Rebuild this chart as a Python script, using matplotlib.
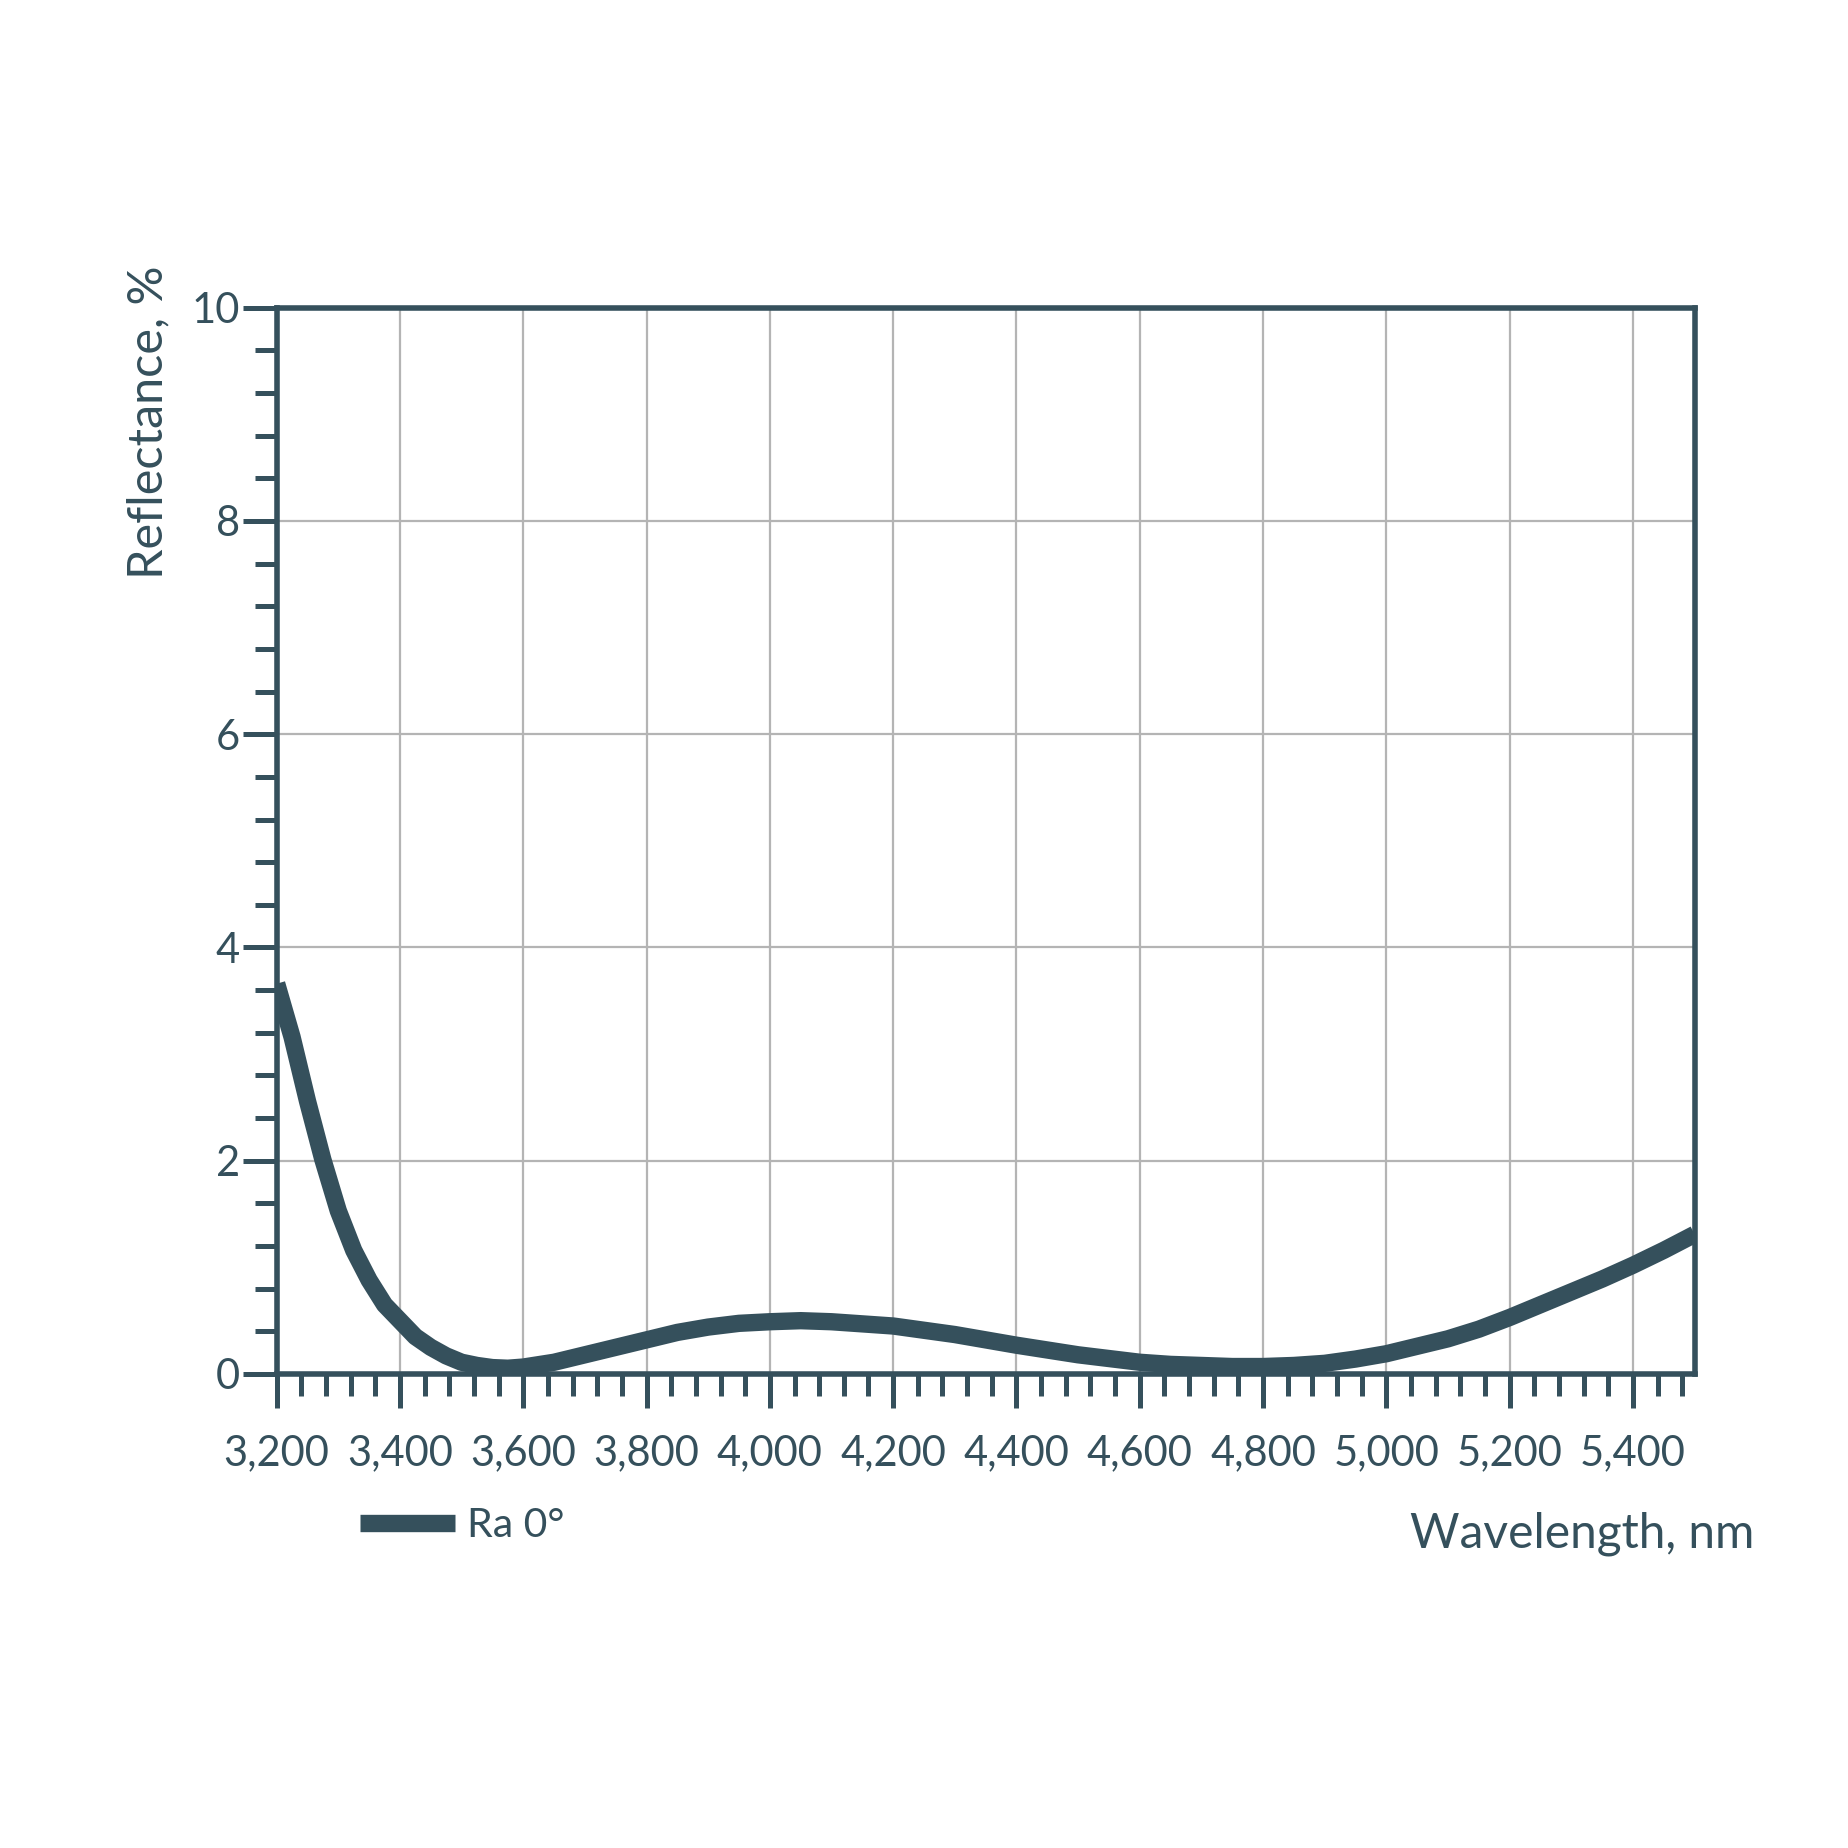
import matplotlib
matplotlib.use("Agg")
import matplotlib.pyplot as plt
from matplotlib.ticker import MultipleLocator, StrMethodFormatter

# 数据：波长 (nm) 与反射率 (%)
wavelength = [3200, 3225, 3250, 3275, 3300, 3325, 3350, 3375, 3400, 3425,
              3450, 3475, 3500, 3525, 3550, 3575, 3600, 3650, 3700, 3750,
              3800, 3850, 3900, 3950, 4000, 4050, 4100, 4150, 4200, 4250,
              4300, 4350, 4400, 4450, 4500, 4550, 4600, 4650, 4700, 4750,
              4800, 4850, 4900, 4950, 5000, 5050, 5100, 5150, 5200, 5250,
              5300, 5350, 5400, 5450, 5500]
reflectance = [3.66, 3.16, 2.56, 2.01, 1.53, 1.16, 0.88, 0.65, 0.50, 0.35,
               0.25, 0.17, 0.11, 0.08, 0.06, 0.054, 0.065, 0.11, 0.18, 0.25,
               0.32, 0.39, 0.44, 0.475, 0.49, 0.50, 0.49, 0.47, 0.45, 0.41,
               0.37, 0.32, 0.27, 0.225, 0.18, 0.145, 0.11, 0.09, 0.08, 0.07,
               0.07, 0.08, 0.10, 0.14, 0.19, 0.26, 0.33, 0.42, 0.53, 0.65,
               0.77, 0.89, 1.02, 1.16, 1.31]
series_label = "Ra 0°"
x_major = [3200, 3400, 3600, 3800, 4000, 4200, 4400, 4600, 4800, 5000, 5200, 5400]
y_major = [0, 2, 4, 6, 8, 10]

dark = "#35505c"
grid_c = "#b4b4b4"

plt.rcParams['font.family'] = ['Lato', 'DejaVu Sans']
plt.rcParams['text.color'] = dark

fig = plt.figure(figsize=(18.48, 18.48), dpi=100)
ax = fig.add_axes([0.1497, 0.2565, 0.917 - 0.1497, 0.8335 - 0.2565])

ax.plot(wavelength, reflectance, color=dark, lw=12.5, solid_capstyle='butt',
        solid_joinstyle='round', label=series_label, zorder=3)

ax.set_xlim(3200, 5500)
ax.set_ylim(0, 10)
ax.set_xticks(x_major)
ax.set_yticks(y_major)
ax.xaxis.set_minor_locator(MultipleLocator(40))
ax.yaxis.set_minor_locator(MultipleLocator(0.4))
ax.xaxis.set_major_formatter(StrMethodFormatter('{x:,.0f}'))

ax.grid(True, which='major', color=grid_c, lw=1.6, zorder=0)
ax.set_axisbelow(True)

for s in ax.spines.values():
    s.set_color(dark)
    s.set_linewidth(4)

ax.tick_params(which='major', direction='out', length=24.5, width=3.6,
               color=dark, labelcolor=dark, labelsize=30)
ax.tick_params(which='minor', direction='out', length=16, width=3.6, color=dark)
ax.tick_params(axis='x', which='major', pad=19)
ax.tick_params(axis='y', which='major', pad=2)

ax.set_ylabel("Reflectance, %", fontsize=35, color=dark)
ax.yaxis.set_label_coords(-0.075, 0.893)
ax.set_xlabel("Wavelength, nm", fontsize=34.5, color=dark)
ax.xaxis.set_label_coords(0.921, -0.129)

leg = ax.legend(loc='center left', bbox_to_anchor=(0.059, -0.142), frameon=False,
                fontsize=29.5, handlelength=2.3, handletextpad=0.3,
                borderpad=0, borderaxespad=0)
for t in leg.get_texts():
    t.set_color(dark)

fig.savefig("out.png", dpi=100, facecolor='white')
